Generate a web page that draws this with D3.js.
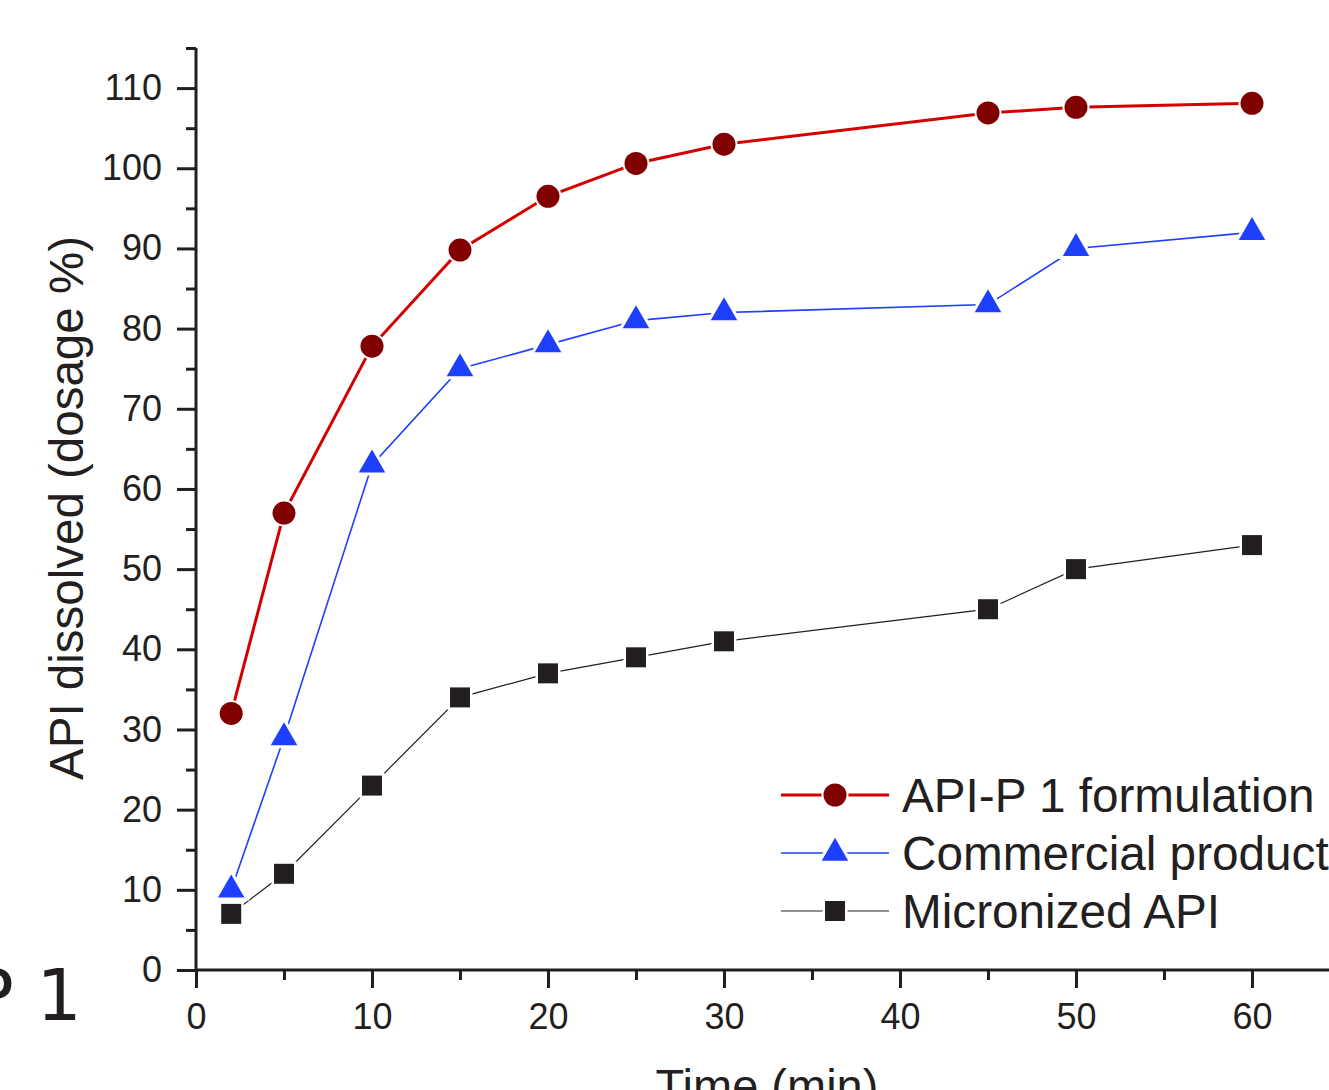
<!DOCTYPE html>
<html>
<head>
<meta charset="utf-8">
<script src="https://cdn.jsdelivr.net/npm/d3@7"></script>
<style>
  body { margin: 0; background: #fff; }
  text { font-family: "Liberation Sans", Arial, sans-serif; fill: #231f20; }
</style>
</head>
<body>
<div id="canvas"></div>
<script>
// time points (min)
const times = [2, 5, 10, 15, 20, 25, 30, 45, 50, 60];
// % dissolved per series
const formulation = [32, 57, 77.8, 89.8, 96.5, 100.6, 103, 106.9, 107.6, 108.1];
const commercial = [10, 29, 63, 75, 78, 81, 82, 83, 90, 92];
const micronized = [7, 12, 23, 34, 37, 39, 41, 45, 50, 53];
const seriesNames = ["API-P 1 formulation", "Commercial product", "Micronized API"];
const xTicks = [0, 10, 20, 30, 40, 50, 60];
const yTicks = [0, 10, 20, 30, 40, 50, 60, 70, 80, 90, 100, 110];

const width = 1329;
const height = 1090;
const margin = { top: 48, left: 196, bottom: 120, right: 0 };
const iheight = height - margin.top - margin.bottom;

const svg = d3.select("#canvas").append("svg")
  .attr("width", width)
  .attr("height", height);

const g = svg.append("g").attr("transform", `translate(${margin.left}, ${margin.top})`);

const x = d3.scaleLinear().domain([0, 60]).range([0, 1056]);
const y = d3.scaleLinear().domain([0, 115]).range([iheight, 0]);

// minor ticks first
g.append("g")
  .attr("transform", `translate(0, ${iheight})`)
  .call(d3.axisBottom(x).tickValues([5, 15, 25, 35, 45, 55, 65]).tickSize(10).tickSizeOuter(0).tickFormat(""))
  .call((a) => a.select(".domain").remove());
g.append("g")
  .call(d3.axisLeft(y).tickValues([5, 15, 25, 35, 45, 55, 65, 75, 85, 95, 105, 115]).tickSize(10).tickSizeOuter(0).tickFormat(""))
  .call((a) => a.select(".domain").remove());

const xAxis = g.append("g")
  .attr("transform", `translate(0, ${iheight})`)
  .call(d3.axisBottom(x).tickValues(xTicks).tickSize(18).tickSizeOuter(0).tickPadding(15));
xAxis.select(".domain").attr("d", `M0,0H${width}`);

const yAxis = g.append("g")
  .call(d3.axisLeft(y).tickValues(yTicks).tickSize(19).tickSizeOuter(0).tickPadding(15));
yAxis.select(".domain").attr("d", `M0,${y(115)}V${iheight}`);

g.selectAll(".tick line, .domain")
  .attr("stroke", "#231f20")
  .attr("stroke-width", 3);
g.selectAll(".tick text")
  .style("font-size", "36px")
  .attr("fill", "#231f20");

const series = [
  { name: seriesNames[0], values: formulation, line: "#d40000", fill: "#800000", lw: 3, sym: d3.symbolCircle, size: 415, gap: 4 },
  { name: seriesNames[1], values: commercial, line: "#1f3fff", fill: "#1f3fff", lw: 1.6, sym: d3.symbolTriangle, size: 305, gap: 6 },
  { name: seriesNames[2], values: micronized, line: "#231f20", fill: "#231f20", lw: 1.2, sym: d3.symbolSquare, size: 400, gap: 5 }
];

const line = d3.line()
  .x((d) => x(d[0]))
  .y((d) => y(d[1]));

series.forEach((s) => {
  const pts = times.map((t, i) => [t, s.values[i]]);
  g.append("path")
    .datum(pts)
    .attr("fill", "none")
    .attr("stroke", s.line)
    .attr("stroke-width", s.lw)
    .attr("d", line);
});

series.forEach((s) => {
  const pts = times.map((t, i) => [t, s.values[i]]);
  g.selectAll(null)
    .data(pts)
    .enter()
    .append("path")
    .attr("transform", (d) => `translate(${x(d[0])}, ${y(d[1])})`)
    .attr("d", d3.symbol().type(s.sym).size(s.size))
    .attr("fill", s.fill)
    .attr("stroke", "#fff")
    .attr("stroke-width", s.gap)
    .attr("paint-order", "stroke");
});

// legend
const legend = svg.append("g").attr("transform", "translate(781, 795)");
series.forEach((s, i) => {
  const row = legend.append("g").attr("transform", `translate(0, ${i * 58})`);
  row.append("line")
    .attr("x1", 0).attr("x2", 108)
    .attr("stroke", s.line)
    .attr("stroke-width", s.lw);
  row.append("path")
    .attr("transform", "translate(54, 0)")
    .attr("d", d3.symbol().type(s.sym).size(s.size))
    .attr("fill", s.fill)
    .attr("stroke", "#fff")
    .attr("stroke-width", s.gap)
    .attr("paint-order", "stroke");
  row.append("text")
    .attr("x", 121)
    .attr("y", 17)
    .style("font-size", "47.7px")
    .text(s.name);
});

// axis titles
svg.append("text")
  .attr("text-anchor", "middle")
  .attr("transform", "translate(83, 508) rotate(-90)")
  .style("font-size", "47.5px")
  .text("API dissolved (dosage %)");

svg.append("text")
  .attr("text-anchor", "middle")
  .attr("x", 767)
  .attr("y", 1102)
  .style("font-size", "47px")
  .text("Time (min)");

// label from the neighbouring panel, cut off at the left edge as in the source figure
svg.append("text")
  .attr("x", -29)
  .attr("y", 1020)
  .style("font-family", "'DejaVu Sans', sans-serif")
  .style("font-size", "71px")
  .text("P 1");
</script>
</body>
</html>
